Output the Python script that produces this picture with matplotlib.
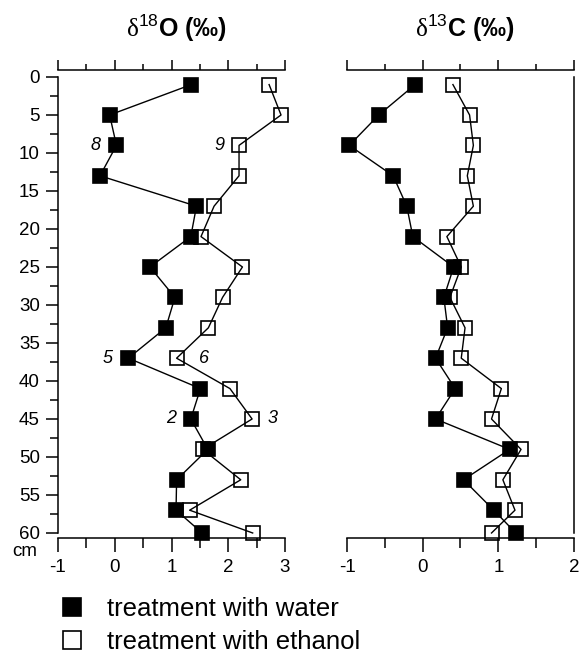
import matplotlib.pyplot as plt
from matplotlib.lines import Line2D
from matplotlib.ticker import MultipleLocator

plt.rcParams['font.family'] = ['Liberation Sans', 'DejaVu Sans']
plt.rcParams['mathtext.fontset'] = 'custom'
plt.rcParams['mathtext.rm'] = 'Liberation Serif'
plt.rcParams['mathtext.sf'] = 'Liberation Sans'
plt.rcParams['axes.unicode_minus'] = False

# sample depths (cm)
depth = [1, 5, 9, 13, 17, 21, 25, 29, 33, 37, 41, 45, 49, 53, 57, 60]

# delta 18O (permil)
o18_water = [1.35, -0.09, 0.03, -0.26, 1.44, 1.34, 0.62, 1.06, 0.90, 0.24,
             1.51, 1.34, 1.64, 1.09, 1.08, 1.54]
o18_ethanol = [2.72, 2.93, 2.19, 2.19, 1.75, 1.52, 2.25, 1.90, 1.65, 1.09,
               2.03, 2.42, 1.55, 2.22, 1.32, 2.43]

# delta 13C (permil)
c13_water = [-0.10, -0.58, -0.97, -0.39, -0.21, -0.13, 0.41, 0.28, 0.33, 0.17,
             0.43, 0.17, 1.15, 0.54, 0.94, 1.23]
c13_ethanol = [0.40, 0.62, 0.67, 0.59, 0.67, 0.32, 0.51, 0.36, 0.56, 0.51,
               1.04, 0.91, 1.30, 1.06, 1.22, 0.91]

# sample numbers written next to some of the d18O points (depth -> label)
water_notes = {9: "8", 37: "5", 45: "2"}
ethanol_notes = {9: "9", 37: "6", 45: "3"}

labels = ["treatment with water", "treatment with ethanol"]

W, H = 580, 655
fig = plt.figure(figsize=(W / 100, H / 100), dpi=100)

bottom = 1 - 538 / H
height = 468 / H
ax1 = fig.add_axes([58 / W, bottom, 227 / W, height])
ax2 = fig.add_axes([347 / W, bottom, 227 / W, height])


def style_axis(ax, xmin, xmax):
    ax.set_xlim(xmin, xmax)
    ax.set_ylim(60.66, -0.92)
    ax.xaxis.set_major_locator(MultipleLocator(1))
    ax.xaxis.set_minor_locator(MultipleLocator(0.5))
    ax.tick_params(axis='x', which='major', direction='out', length=10, width=1.1,
                   labelsize=13.5, pad=5)
    ax.tick_params(axis='x', which='minor', direction='out', length=7, width=1.1)
    for s in ax.spines.values():
        s.set_linewidth(1.1)
    top = ax.secondary_xaxis('top')
    top.xaxis.set_major_locator(MultipleLocator(1))
    top.xaxis.set_minor_locator(MultipleLocator(0.5))
    top.tick_params(axis='x', which='major', direction='out', length=7, width=1.1,
                    labeltop=False)
    top.tick_params(axis='x', which='minor', direction='out', length=4.5, width=1.1)
    top.spines['top'].set_linewidth(1.1)
    ax.spines['top'].set_visible(False)


def draw_series(ax, xs_eth, xs_wat):
    ax.plot(xs_eth, depth, color='black', lw=1.0, marker='s', ms=10,
            mfc='none', mec='black', mew=1.2, zorder=3, clip_on=False)
    ax.plot(xs_wat, depth, color='black', lw=1.0, marker='s', ms=10,
            mfc='black', mec='black', mew=1.2, zorder=4, clip_on=False)


# left panel: d18O
style_axis(ax1, -1, 3)
draw_series(ax1, o18_ethanol, o18_water)
ax1.spines['right'].set_visible(False)
ax1.spines['left'].set_bounds(0, 60)
ax1.yaxis.set_major_locator(MultipleLocator(5))
ax1.yaxis.set_minor_locator(MultipleLocator(2.5))
ax1.tick_params(axis='y', which='major', direction='out', length=8.6, width=1.1,
                labelsize=13.5, pad=4.5)
ax1.tick_params(axis='y', which='minor', direction='out', length=5.8, width=1.1)

note_offsets = {"8": -21, "5": -21, "2": -20, "9": -20, "6": 27, "3": 20}
for series, notes in ((o18_water, water_notes), (o18_ethanol, ethanol_notes)):
    for d, txt in notes.items():
        x = series[depth.index(d)]
        ax1.annotate(txt, (x, d), xytext=(note_offsets[txt] * 0.72, 0),
                     textcoords='offset points', ha='center', va='center',
                     fontsize=13, style='italic')

# right panel: d13C
style_axis(ax2, -1, 2)
draw_series(ax2, c13_ethanol, c13_water)
ax2.spines['left'].set_visible(False)
ax2.spines['right'].set_bounds(0, 60)
ax2.tick_params(axis='y', which='both', left=False, right=False,
                labelleft=False)

# titles
fig.text(177 / W, 1 - 28 / H, r'$\mathrm{\delta}^{\mathsf{18}}$O (‰)',
         ha='center', va='center', fontsize=18, fontweight='bold')
fig.text(465 / W, 1 - 28 / H, r'$\mathrm{\delta}^{\mathsf{13}}$C (‰)',
         ha='center', va='center', fontsize=18, fontweight='bold')

fig.text(24.5 / W, 1 - 551 / H, 'cm', ha='center', va='center', fontsize=13.5)

# legend
handles = [
    Line2D([], [], ls='none', marker='s', ms=12.5, mfc='black', mec='black', mew=1.2),
    Line2D([], [], ls='none', marker='s', ms=12.5, mfc='white', mec='black', mew=1.2),
]
fig.legend(handles, labels, loc='upper left', bbox_to_anchor=(59 / W, 1 - 597 / H),
           frameon=False, fontsize=18.5, handlelength=1.0, handletextpad=0.85,
           labelspacing=0.35, borderpad=0, borderaxespad=0)

fig.savefig('out.png', dpi=100)
